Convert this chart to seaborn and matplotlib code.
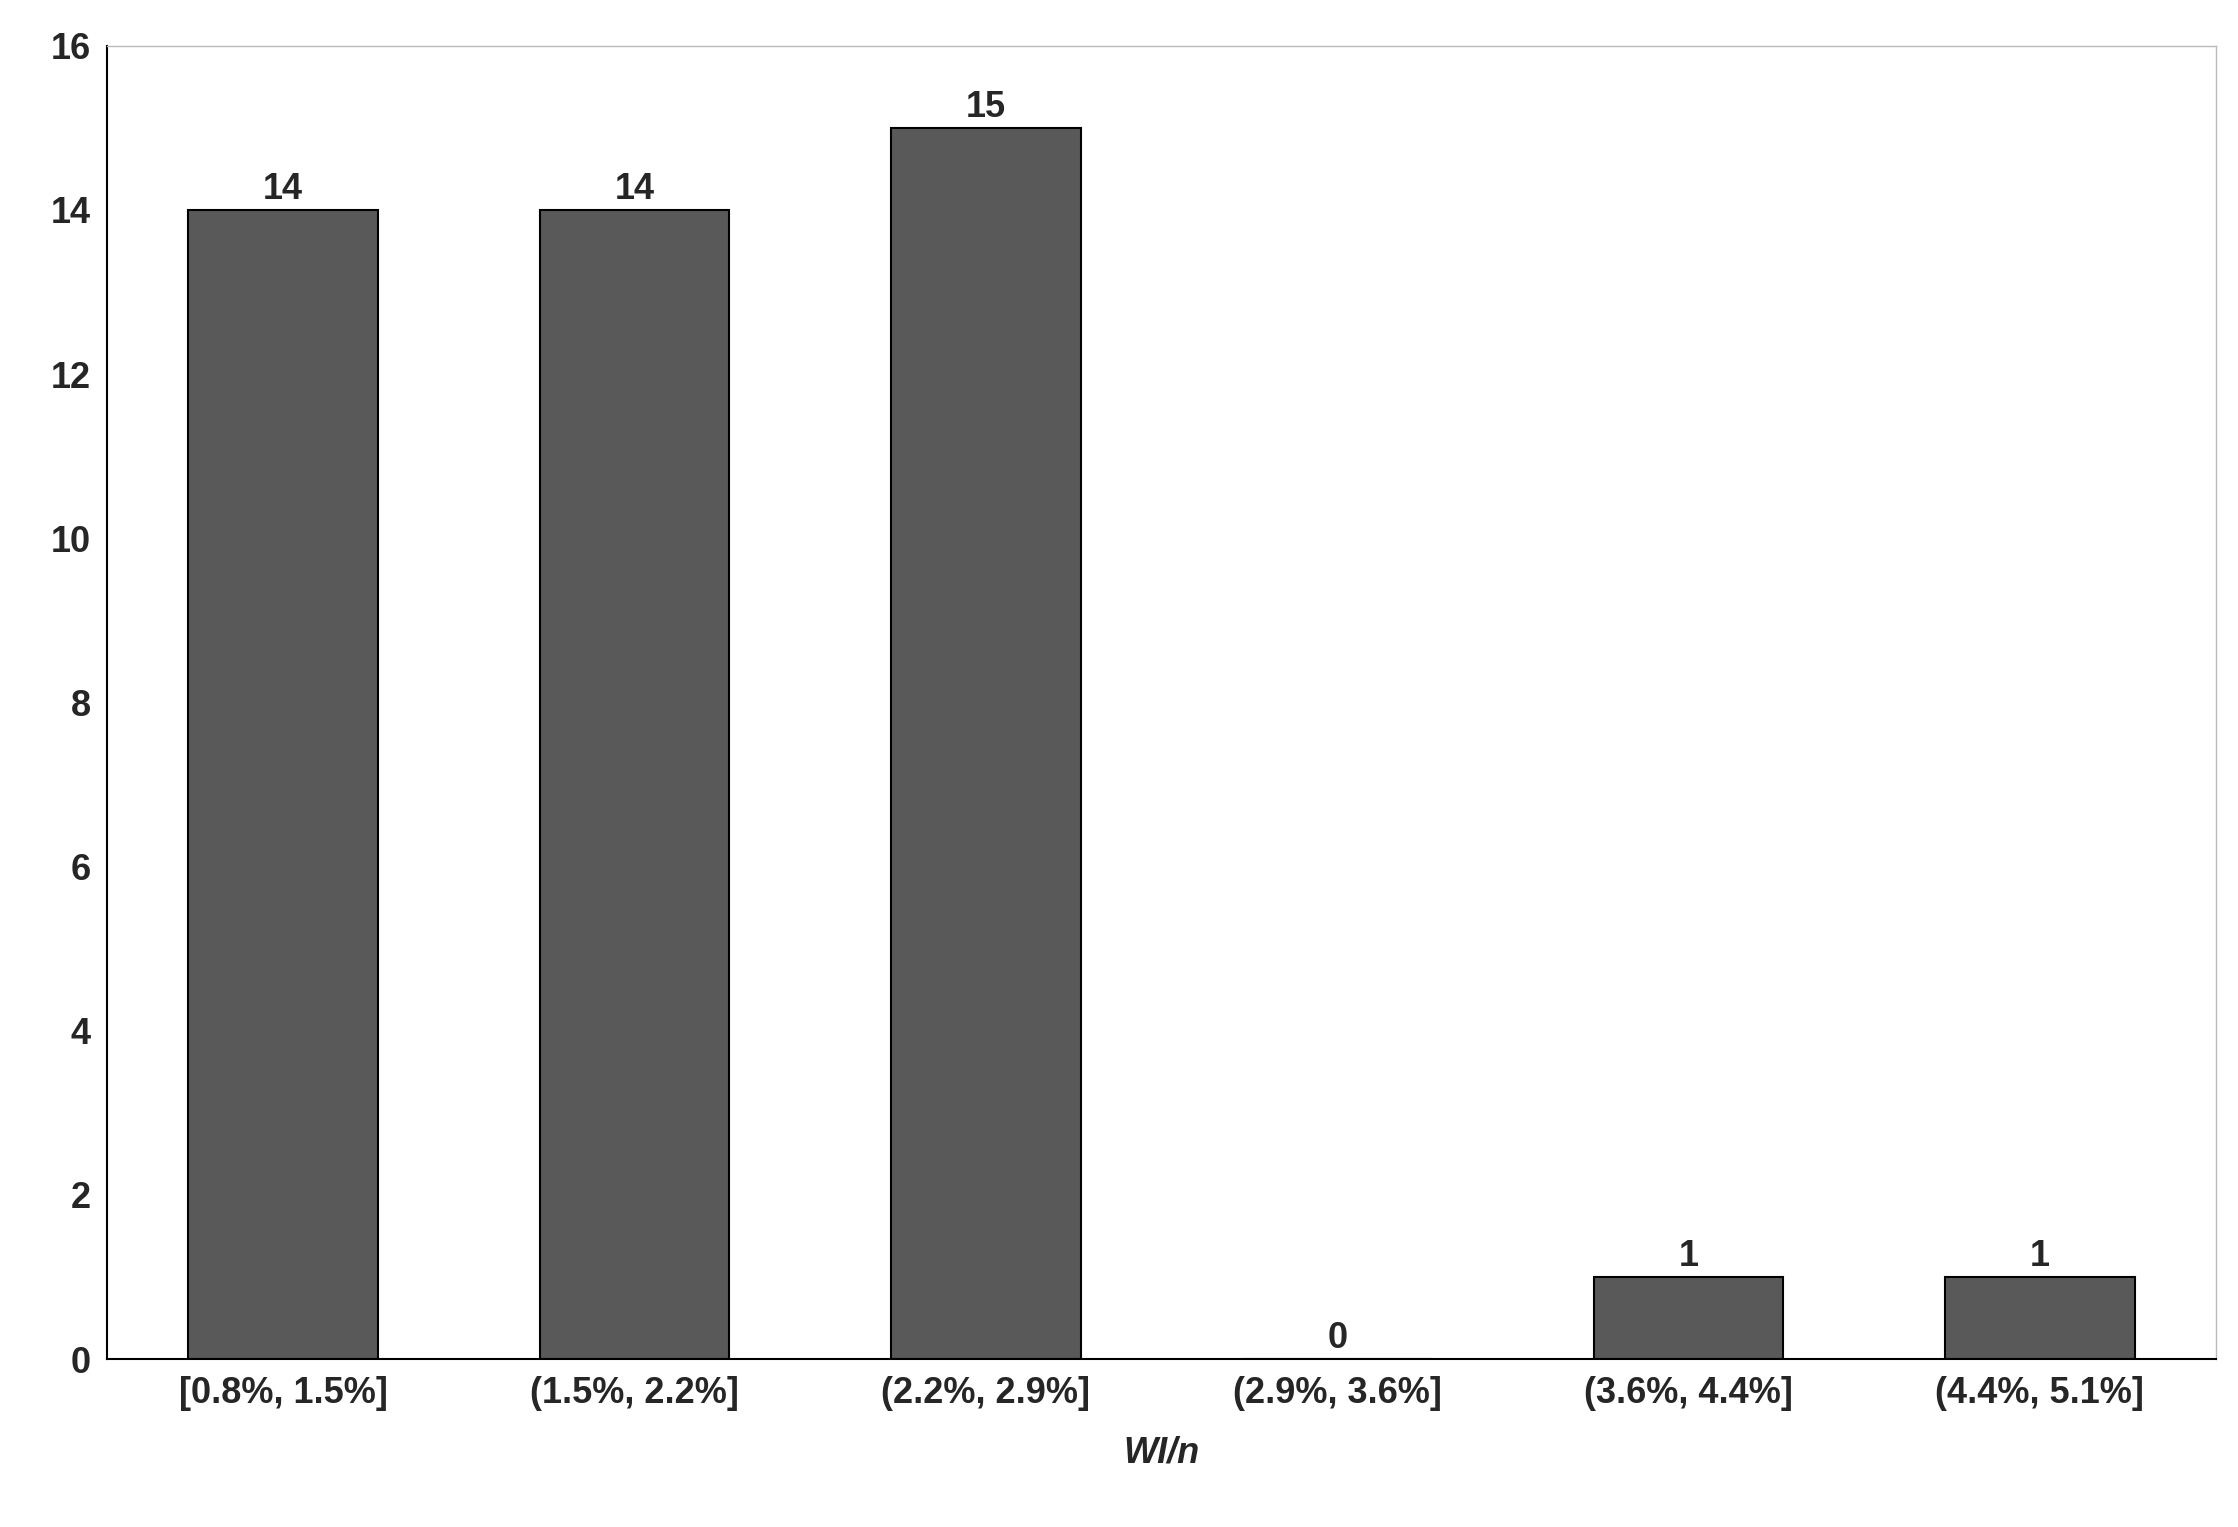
import matplotlib
matplotlib.use("Agg")
import matplotlib.pyplot as plt
import seaborn as sns
import pandas as pd

categories = ["[0.8%, 1.5%]", "(1.5%, 2.2%]", "(2.2%, 2.9%]", "(2.9%, 3.6%]", "(3.6%, 4.4%]", "(4.4%, 5.1%]"]
counts = [14, 14, 15, 0, 1, 1]

sns.set_style("white")
plt.rcParams['font.family'] = ['Liberation Sans', 'DejaVu Sans']

fig = plt.figure(figsize=(22.38, 15.27), dpi=100)
ax = fig.add_axes([0.048, 0.11, 0.942, 0.86])
df = pd.DataFrame({"cat": categories, "n": counts})
sns.barplot(data=df, x="cat", y="n", color="#595959", width=0.54,
            edgecolor="black", linewidth=1.5, saturation=1, ax=ax)
for c in ax.containers:
    ax.bar_label(c, fontsize=26, fontweight="bold", padding=2)
ax.set_ylim(0, 16)
ax.set_yticks(range(0, 17, 2))
ax.set_xlim(-0.5, 5.5)
ax.set_ylabel("")
ax.set_xlabel("WI/n", fontsize=26, fontweight="bold", style="italic", labelpad=18)
ax.tick_params(axis="both", labelsize=26, length=0, pad=12)
for lab in ax.get_xticklabels() + ax.get_yticklabels():
    lab.set_fontweight("bold")
for s in ["left", "bottom"]:
    ax.spines[s].set_color("black"); ax.spines[s].set_linewidth(1.5)
for s in ["top", "right"]:
    ax.spines[s].set_color("#bbbbbb"); ax.spines[s].set_linewidth(1)
fig.savefig("out.png", dpi=100)
